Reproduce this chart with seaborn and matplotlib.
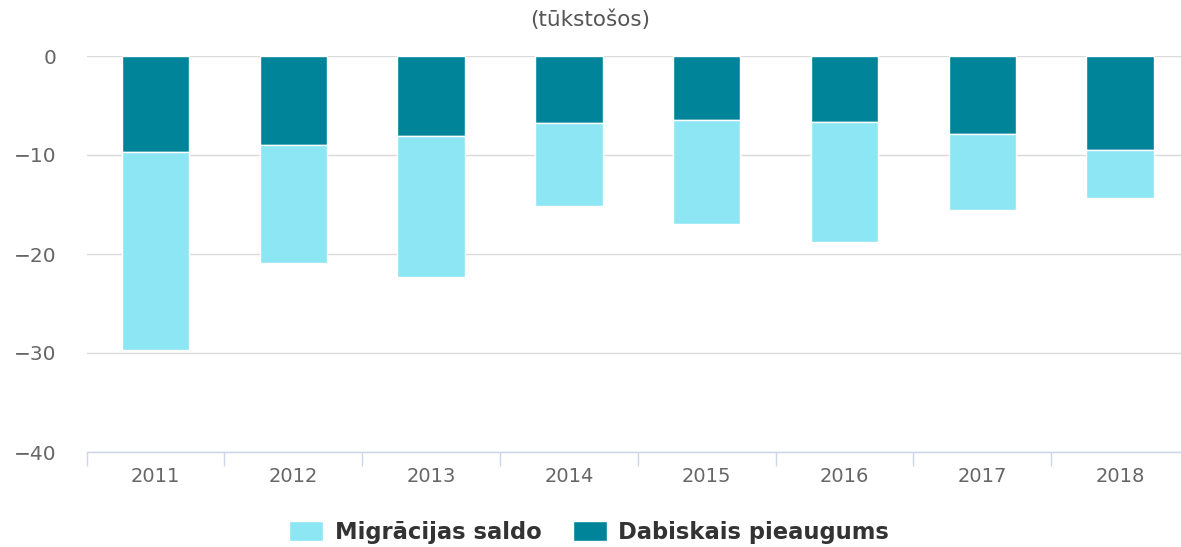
import matplotlib
matplotlib.use("Agg")
import matplotlib.pyplot as plt
import seaborn as sns
import numpy as np
from matplotlib.patches import Patch

# data (thousands)
years = ["2011", "2012", "2013", "2014", "2015", "2016", "2017", "2018"]
dabiskais = [-9.7, -9.0, -8.05, -6.8, -6.45, -6.65, -7.9, -9.5]
migracijas = [-20.0, -11.9, -14.25, -8.4, -10.55, -12.1, -7.65, -4.8]

dark = "#00849A"
light = "#8DE6F4"

sns.set_theme(style="white")
plt.rcParams["font.family"] = ["DejaVu Sans"]

fig = plt.figure(figsize=(11.81, 5.47), dpi=100)
ax = fig.add_axes([86.6 / 1181, 1 - 452 / 547, (1189 - 86.6) / 1181, 396 / 547])

sns.barplot(x=years, y=dabiskais, color=dark, width=0.49, ax=ax,
            edgecolor="white", linewidth=1, saturation=1, zorder=3)
sns.barplot(x=years, y=migracijas, bottom=dabiskais, color=light, width=0.49, ax=ax,
            edgecolor="white", linewidth=1, saturation=1, zorder=3)

ax.set_ylim(-40, 0)
ax.set_xlim(-0.5, 7.5)
ax.set_yticks([0, -10, -20, -30, -40])
ax.set_yticklabels(["0", "\u221210", "\u221220", "\u221230", "\u221240"])
ax.yaxis.grid(True, color="#dadada", linewidth=1, zorder=0)
ax.set_axisbelow(True)

for s in ["top", "right", "left"]:
    ax.spines[s].set_visible(False)
ax.spines["bottom"].set_color("#ccd6eb")
ax.spines["bottom"].set_linewidth(1)

ax.tick_params(axis="y", length=0, pad=22, labelsize=14.5, labelcolor="#666666")
ax.tick_params(axis="x", which="major", length=0, pad=11, labelsize=14, labelcolor="#666666")
ax.set_xticks(np.arange(-0.5, 8, 1), minor=True)
ax.tick_params(axis="x", which="minor", bottom=True, length=10, color="#ccd6eb", width=1)
ax.set_xlabel("")
ax.set_ylabel("")

fig.text(0.5, 1 - 20 / 547, "(tūkstošos)", ha="center", va="center",
         fontsize=15.5, color="#555555")

handles = [Patch(facecolor=light, label="Migrācijas saldo"),
           Patch(facecolor=dark, label="Dabiskais pieaugums")]
fig.legend(handles=handles, loc="center", bbox_to_anchor=(0.499, 1 - 532 / 547), ncol=2,
           frameon=False, handlelength=1.5, handleheight=1.0, handletextpad=0.5,
           columnspacing=1.4, prop={"weight": "bold", "size": 16.3}, labelcolor="#333333")

fig.savefig("out.png", dpi=100)
